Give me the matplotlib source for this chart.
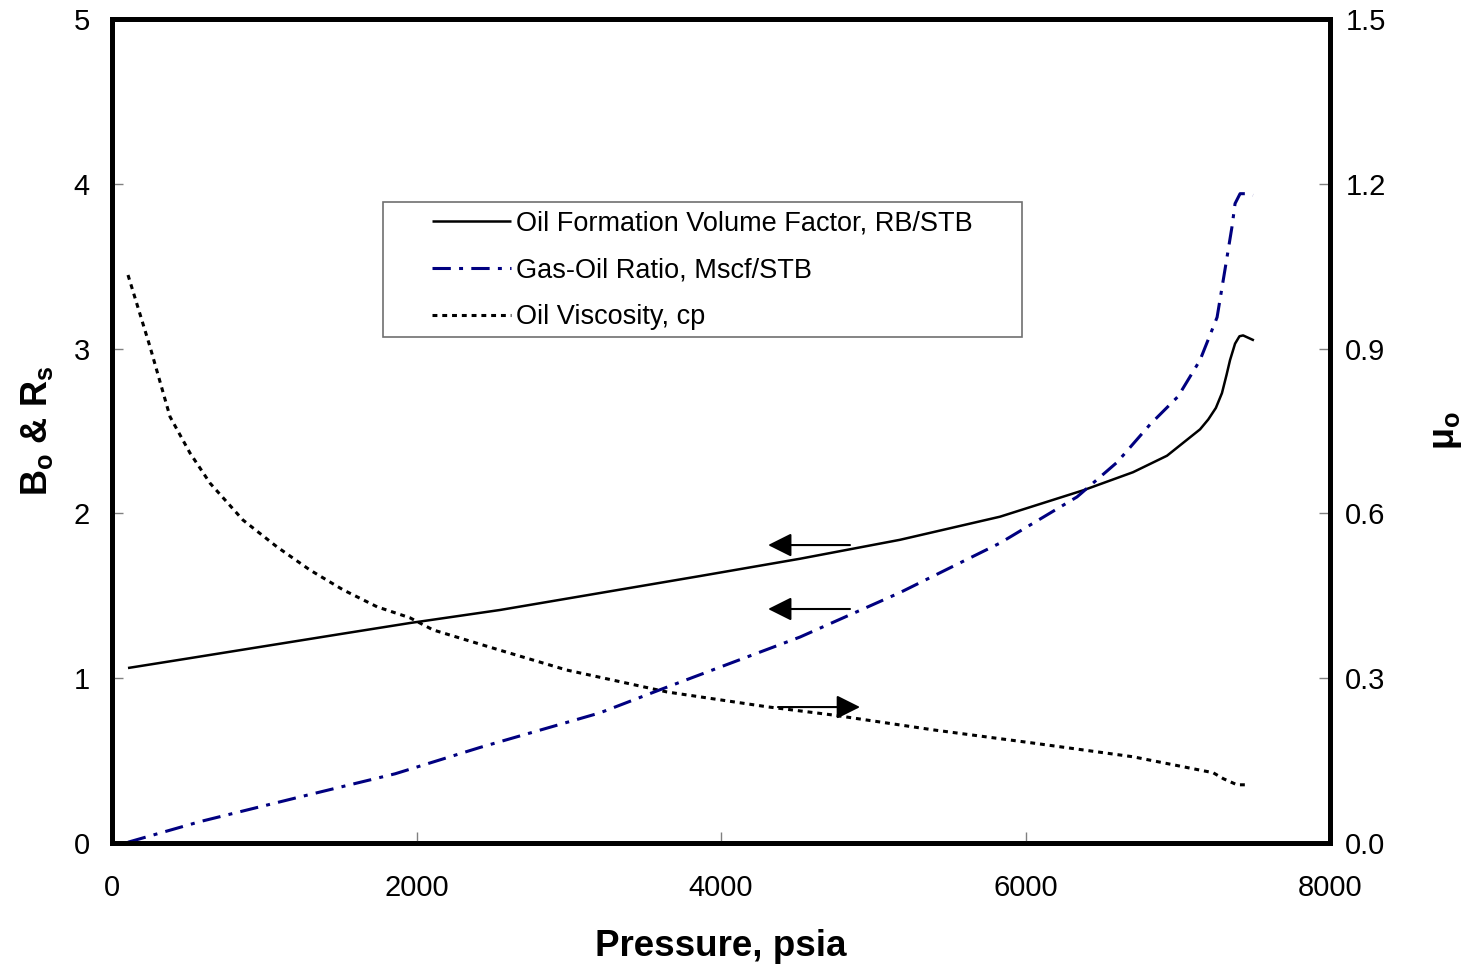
import numpy as np
import matplotlib
matplotlib.use("Agg")
import matplotlib.pyplot as plt
from matplotlib.patches import Rectangle

plt.rcParams['font.family'] = ['Liberation Sans', 'DejaVu Sans']
plt.rcParams['mathtext.fontset'] = 'custom'
plt.rcParams['mathtext.rm'] = 'Liberation Sans'
plt.rcParams['mathtext.bf'] = 'Liberation Sans:bold'
plt.rcParams['mathtext.it'] = 'Liberation Sans:italic'
plt.rcParams['mathtext.default'] = 'bf'

# ---- dados ----
pressao_bo = [105, 500, 1000, 1500, 1957, 2548, 3205, 3862, 4519, 5176, 5832,
              6378, 6706, 6929, 7146, 7200, 7250, 7290, 7320, 7343, 7376, 7405,
              7429, 7500]
fator_bo = [1.062, 1.12, 1.194, 1.268, 1.335, 1.414, 1.517, 1.62, 1.725, 1.84, 1.98,
            2.14, 2.25, 2.35, 2.51, 2.57, 2.64, 2.73, 2.84, 2.93, 3.03, 3.075,
            3.08, 3.05]

pressao_rs = [105, 578, 1235, 1859, 2417, 3205, 3599, 4519, 5176, 5832, 6338,
              6601, 6818, 7002, 7146, 7258, 7310, 7356, 7376, 7409, 7442, 7494]
razao_rs = [0.005, 0.13, 0.28, 0.42, 0.58, 0.79, 0.93, 1.25, 1.52, 1.82, 2.10,
            2.31, 2.54, 2.71, 2.93, 3.19, 3.48, 3.74, 3.88, 3.94, 3.94, 3.93]

pressao_mu = [105, 250, 381, 512, 644, 860, 1084, 1300, 1517, 1741, 1957, 2108,
              2548, 2985, 3645, 4302, 4736, 5393, 6049, 6706, 7232, 7300, 7389, 7461]
viscosidade = [1.034, 0.903, 0.776, 0.71, 0.655, 0.588, 0.539, 0.497, 0.461, 0.43,
               0.41, 0.388, 0.351, 0.315, 0.275, 0.248, 0.233, 0.206, 0.182, 0.157,
               0.128, 0.117, 0.106, 0.106]

rotulos_legenda = ["Oil Formation Volume Factor, RB/STB",
                   "Gas-Oil Ratio, Mscf/STB",
                   "Oil Viscosity, cp"]

# setas: (x_inicio, x_fim, y) no eixo esquerdo
setas = [(4847, 4309, 1.808), (4847, 4309, 1.42), (4374, 4913, 0.825)]

cor_rs = '#000080'
cor_tick = '#808080'

fig = plt.figure(figsize=(14.7, 9.69), dpi=100)
ax = fig.add_axes([0.0762, 0.130, 0.8286, 0.8504])
ax2 = ax.twinx()

l1, = ax.plot(pressao_bo, fator_bo, color='black', lw=1.8, solid_capstyle='butt')
l2, = ax.plot(pressao_rs, razao_rs, color=cor_rs, lw=2.2, dashes=(6, 2.7, 1.3, 2.7))
l3, = ax2.plot(pressao_mu, viscosidade, color='black', lw=2.2, dashes=(1.6, 1.6))

ax.set_xlim(0, 8000)
ax.set_ylim(0, 5)
ax2.set_ylim(0, 1.5)
ax.set_xticks([0, 2000, 4000, 6000, 8000])
ax.set_yticks([0, 1, 2, 3, 4, 5])
ax2.set_yticks([0.0, 0.3, 0.6, 0.9, 1.2, 1.5])
ax2.set_yticklabels([f"{v:.1f}" for v in [0.0, 0.3, 0.6, 0.9, 1.2, 1.5]])

ax.tick_params(axis='x', direction='in', length=8, width=1, color=cor_tick,
               labelsize=21, pad=22, top=False)
ax.tick_params(axis='y', direction='in', length=8, width=1, color=cor_tick,
               labelsize=21, pad=16, right=False)
ax2.tick_params(axis='y', direction='in', length=8, width=1, color=cor_tick,
                labelsize=21, pad=11)

for eixo in (ax, ax2):
    for sp in eixo.spines.values():
        sp.set_linewidth(3.5)
        sp.set_color('black')

ax.set_xlabel("Pressure, psia", fontsize=26.5, fontweight='bold', labelpad=20)
ax.set_ylabel(r'B$_o$ & R$_s$', fontsize=26, fontweight='bold')
ax.yaxis.set_label_coords(-0.047, 0.5)
ax2.set_ylabel(r'$\mu_o$', fontsize=26, fontweight='bold')
ax2.yaxis.set_label_coords(1.081, 0.5)

for x0, x1, y in setas:
    ax.annotate('', xy=(x1, y), xytext=(x0, y),
                arrowprops=dict(arrowstyle='-|>', color='black', lw=1.5,
                                mutation_scale=36, shrinkA=0, shrinkB=0))

# moldura da legenda
ax.add_patch(Rectangle((0.2225, 0.614), 0.5247, 0.164, transform=ax.transAxes,
                       facecolor='white', edgecolor='#707070', lw=1.2, zorder=5))
leg = ax.legend([l1, l2, l3], rotulos_legenda, loc='upper left',
                bbox_to_anchor=(0.2627, 0.768), frameon=False, fontsize=19.5,
                borderpad=0, borderaxespad=0, handlelength=2.9,
                handletextpad=0.2, labelspacing=0.78)
leg.set_zorder(6)
ax.set_zorder(ax2.get_zorder() + 1)
ax.patch.set_visible(False)

plt.savefig("out.png", dpi=100)
